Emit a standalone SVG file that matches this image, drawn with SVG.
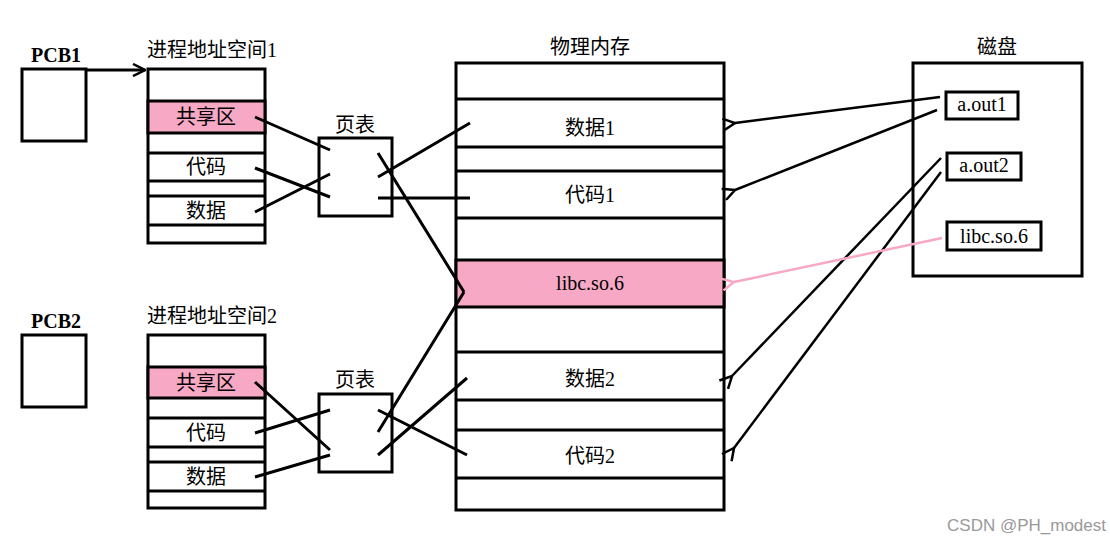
<svg xmlns="http://www.w3.org/2000/svg" width="1110" height="544" viewBox="0 0 1110 544">
<defs>
<marker id="ah" markerWidth="14" markerHeight="14" refX="1" refY="7" orient="auto" markerUnits="userSpaceOnUse"><path d="M13,1 L1,7 L13,13" fill="none" stroke="#000" stroke-width="2.5"/></marker>
<marker id="ap" markerWidth="14" markerHeight="14" refX="1" refY="7" orient="auto" markerUnits="userSpaceOnUse"><path d="M13,1 L1,7 L13,13" fill="none" stroke="#f7a8c4" stroke-width="2.5"/></marker>
<marker id="ar" markerWidth="14" markerHeight="14" refX="13" refY="7" orient="auto" markerUnits="userSpaceOnUse"><path d="M1,1 L13,7 L1,13" fill="none" stroke="#000" stroke-width="2.5"/></marker>
</defs>
<style>
.b{fill:#fff;stroke:#000;stroke-width:3}
.p{fill:#f7a8c4;stroke:#000;stroke-width:3}
.l{stroke:#000;stroke-width:3;fill:none}
.c{stroke:#000;stroke-width:2.5;fill:none}
text{font-family:"Liberation Serif","Noto Sans CJK SC",serif;font-size:20px;fill:#000;text-anchor:middle}
.t{font-weight:bold}
</style>
<rect width="1110" height="544" fill="#fff"/>
<g id="pcb1"><rect class="b" x="22" y="69" width="64" height="72"/><text class="t" x="56" y="62">PCB1</text></g>
<g id="pcb2"><rect class="b" x="22" y="335" width="64" height="72"/><text class="t" x="56" y="328">PCB2</text></g>
<g id="as1">
<text x="212" y="57">进程地址空间1</text>
<rect class="b" x="148" y="69" width="117" height="174"/>
<rect class="p" x="148" y="101" width="117" height="32"/>
<path class="l" d="M148,153H265M148,181H265M148,196H265M148,225H265"/>
<text x="206" y="124">共享区</text><text x="206" y="174">代码</text><text x="206" y="218">数据</text>
</g>
<g id="as2">
<text x="212" y="323">进程地址空间2</text>
<rect class="b" x="148" y="335" width="117" height="173"/>
<rect class="p" x="148" y="367" width="117" height="31"/>
<path class="l" d="M148,418H265M148,447H265M148,462H265M148,491H265"/>
<text x="206" y="390">共享区</text><text x="206" y="440">代码</text><text x="206" y="484">数据</text>
</g>
<g id="pt1"><text x="355" y="132">页表</text><rect class="b" x="319" y="138" width="73" height="78"/></g>
<g id="pt2"><text x="355" y="387">页表</text><rect class="b" x="319" y="394" width="73" height="78"/></g>
<g id="mem">
<text x="590" y="54">物理内存</text>
<rect class="b" x="456" y="63" width="268" height="447"/>
<rect class="p" x="456" y="260" width="268" height="47"/>
<path class="l" d="M456,99H724M456,147H724M456,171H724M456,218H724M456,352H724M456,400H724M456,430H724M456,478H724"/>
<text x="590" y="135">数据1</text><text x="590" y="202">代码1</text><text x="590" y="290">libc.so.6</text><text x="590" y="386">数据2</text><text x="590" y="463">代码2</text>
</g>
<g id="disk">
<text x="997" y="54">磁盘</text>
<rect class="b" x="913" y="63" width="169" height="213"/>
<rect class="b" x="946" y="92" width="72" height="27"/><text x="982" y="111">a.out1</text>
<rect class="b" x="947" y="153" width="74" height="27"/><text x="984" y="172">a.out2</text>
<rect class="b" x="947" y="222" width="94" height="28"/><text x="994" y="243">libc.so.6</text>
</g>
<g id="connectors">
<path class="l" d="M86,70H145" marker-end="url(#ar)"/>
<path class="l" d="M255,117L330,150M255,168L330,197M255,212L330,174M378,177L470,123M378,198H470M378,153L464,292"/>
<path class="l" d="M255,382L330,450M255,433L330,410M255,477L330,455M378,432L464,292M378,455L467,378M378,410L467,455"/>
<path class="c" d="M940,97L735,123" marker-end="url(#ah)"/>
<path class="c" d="M937,110L735,190" marker-end="url(#ah)"/>
<path class="c" d="M941,158L732,376" marker-end="url(#ah)"/>
<path class="c" d="M941,172L734,448" marker-end="url(#ah)"/>
<path d="M942,238L734,282" stroke="#f7a8c4" stroke-width="2.5" fill="none" marker-end="url(#ap)"/>
</g>
<text x="1106" y="531" style="font-family:'Liberation Sans',sans-serif;font-size:17px;fill:#999;text-anchor:end">CSDN @PH_modest</text>
</svg>
